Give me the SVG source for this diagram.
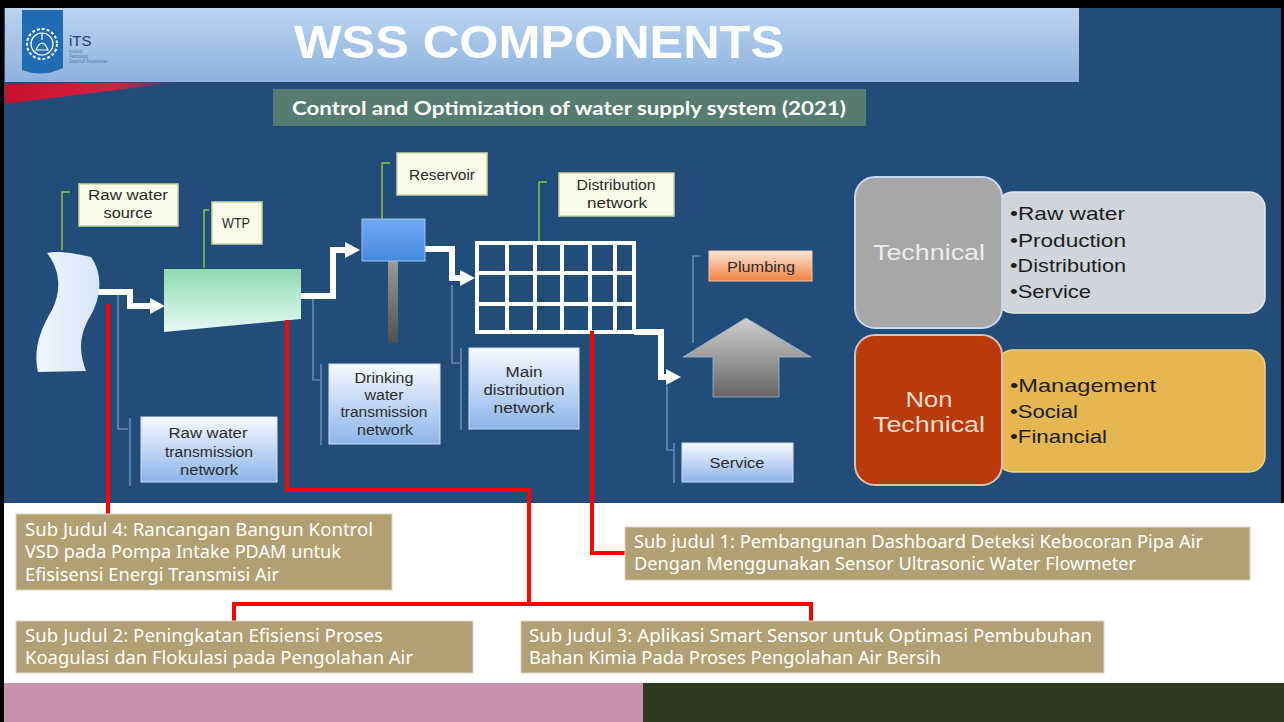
<svg xmlns="http://www.w3.org/2000/svg" width="1284" height="722" viewBox="0 0 1284 722">
  <defs>
    <linearGradient id="gHdr" x1="0" y1="0" x2="0" y2="1">
      <stop offset="0" stop-color="#bcd3ef"/>
      <stop offset="1" stop-color="#8db2de"/>
    </linearGradient>
    <linearGradient id="gSwoosh" x1="0" y1="0" x2="1" y2="0">
      <stop offset="0" stop-color="#c8102e"/>
      <stop offset="0.6" stop-color="#d42040"/>
      <stop offset="1" stop-color="#d42040" stop-opacity="0"/>
    </linearGradient>
    <linearGradient id="gWtp" x1="0" y1="0" x2="0" y2="1">
      <stop offset="0" stop-color="#8ddcaf"/>
      <stop offset="1" stop-color="#e8f7f4"/>
    </linearGradient>
    <linearGradient id="gRes" x1="0" y1="0" x2="0" y2="1">
      <stop offset="0" stop-color="#6faaf3"/>
      <stop offset="1" stop-color="#4589e0"/>
    </linearGradient>
    <linearGradient id="gPole" x1="0" y1="0" x2="0" y2="1">
      <stop offset="0" stop-color="#9a9a9a"/>
      <stop offset="1" stop-color="#4f4f4f"/>
    </linearGradient>
    <linearGradient id="gSrc" x1="0" y1="0" x2="1" y2="0">
      <stop offset="0" stop-color="#f0f6fd"/>
      <stop offset="1" stop-color="#d7e6f8"/>
    </linearGradient>
    <linearGradient id="gLbl" x1="0" y1="0" x2="0" y2="1">
      <stop offset="0" stop-color="#f7faff"/>
      <stop offset="1" stop-color="#8db3ea"/>
    </linearGradient>
    <linearGradient id="gPlumb" x1="0" y1="0" x2="0" y2="1">
      <stop offset="0" stop-color="#fde6d6"/>
      <stop offset="1" stop-color="#f2803f"/>
    </linearGradient>
    <linearGradient id="gUp" x1="0" y1="0" x2="0" y2="1">
      <stop offset="0" stop-color="#cfcfcf"/>
      <stop offset="1" stop-color="#666666"/>
    </linearGradient>
    <marker id="ah" markerUnits="userSpaceOnUse" markerWidth="16" markerHeight="18" refX="0" refY="8" orient="auto">
      <path d="M0,0 L15,8 L0,16 Z" fill="#ffffff"/>
    </marker>
    <style>
      .lead { stroke:#8cc63f; stroke-width:1.5; fill:none; }
      .blead { stroke:#7f9fc6; stroke-width:1.2; fill:none; }
      .cream { fill:#fbfbea; stroke:#cbd59d; stroke-width:1.5; }
      .blue { fill:url(#gLbl); stroke:#cfe0f5; stroke-width:1; }
      .lt { font-family:"Liberation Sans", Arial, sans-serif; font-size:14px; fill:#2b2b2b; }
      .pipe { stroke:#ffffff; stroke-width:6; fill:none; stroke-linejoin:miter; }
      .red { stroke:#ff0000; stroke-width:4; fill:none; }
      .sj { fill:#b0a073; stroke:#dcd6bf; stroke-width:1; }
      .sjt { font-family:"Noto Sans", "Liberation Sans", sans-serif; font-size:18px; fill:#ffffff; }
      .bul { font-family:"Liberation Sans", Arial, sans-serif; font-size:19px; fill:#1e1e1e; }
      .cat { font-family:"Liberation Sans", Arial, sans-serif; font-size:22px; text-anchor:middle; }
    </style>
  </defs>

  <!-- page frame -->
  <rect x="0" y="0" width="1284" height="722" fill="#000000"/>
  <rect x="4" y="8" width="1277" height="496" fill="#224d79"/>
  <rect x="4" y="503" width="1280" height="180" fill="#ffffff"/>
  <rect x="4" y="683" width="639" height="39" fill="#c791ad"/>
  <rect x="643" y="683" width="641" height="39" fill="#303820"/>

  <!-- header band -->
  <rect x="5" y="8" width="1074" height="74" fill="url(#gHdr)"/>
  <path d="M5,84 L182,82 Q100,92 5,104 Z" fill="url(#gSwoosh)"/>

  <!-- ITS logo -->
  <g id="logo">
    <path d="M22,10 H63 V68 Q42,78 22,70 Z" fill="#1f6cb2"/>
    <circle cx="42" cy="44" r="15" fill="none" stroke="#ffffff" stroke-width="2" stroke-dasharray="3 2"/>
    <circle cx="42" cy="44" r="11" fill="none" stroke="#ffffff" stroke-width="1.2"/>
    <path d="M36,50 Q42,36 48,50 Z M42,33 V40" fill="none" stroke="#ffffff" stroke-width="1.2"/>
    <text x="69" y="46" font-family="Liberation Sans, Arial, sans-serif" font-size="15" fill="#1d3d6b">iTS</text>
    <text x="69" y="53" font-family="Liberation Sans, Arial, sans-serif" font-size="4.5" fill="#5a7aa0">Institut</text>
    <text x="69" y="58" font-family="Liberation Sans, Arial, sans-serif" font-size="4.5" fill="#5a7aa0">Teknologi</text>
    <text x="69" y="63" font-family="Liberation Sans, Arial, sans-serif" font-size="4.5" fill="#5a7aa0">Sepuluh Nopember</text>
  </g>

  <text x="294" y="58" font-family="Liberation Sans, Arial, sans-serif" font-weight="bold" font-size="46" fill="#ffffff" textLength="490" lengthAdjust="spacingAndGlyphs">WSS COMPONENTS</text>

  <g id="subtitle">
    <rect x="273" y="89" width="593" height="37" fill="#577b70"/>
    <text x="292" y="115" font-family="Lato, 'Liberation Sans', sans-serif" font-weight="bold" font-size="19" fill="#ffffff" textLength="554" lengthAdjust="spacingAndGlyphs">Control and Optimization of water supply system (2021)</text>
  </g>

  <!-- leader lines of the component labels -->
  <g id="leaders">
    <path class="lead" d="M70,192 H62 V250"/>
    <path class="lead" d="M209,210 H204 V268"/>
    <path class="lead" d="M390,163 H382 V228"/>
    <path class="lead" d="M547,182 H539 V245"/>
    <path class="blead" d="M700,256 H693 V343"/>
    <path class="blead" d="M118,293 V429 H128"/>
    <path class="blead" d="M130,418 V486"/>
    <path class="blead" d="M313,298 V380 H320"/>
    <path class="blead" d="M321,364 V445"/>
    <path class="blead" d="M452,285 V363 H460"/>
    <path class="blead" d="M461,348 V430"/>
    <path class="blead" d="M667,386 V450 H673"/>
    <path class="blead" d="M674,443 V483"/>
  </g>

  <!-- flow pipes -->
  <g id="pipes">
    <path class="pipe" d="M98,292 H130 V306 H150" marker-end="url(#ah)"/>
    <path class="pipe" d="M301,296 H333 V250 H345" marker-end="url(#ah)"/>
    <path class="pipe" d="M425,249 H452 V278 H460" marker-end="url(#ah)"/>
    <path class="pipe" d="M634,332 H661 V377 H666" marker-end="url(#ah)"/>
  </g>

  <g id="source">
    <path d="M47,253 C62,250 80,255 91,257 C104,275 101,300 88,320 C78,340 80,355 86,371 L38,372 C33,350 40,330 52,310 C62,290 60,270 47,253 Z" fill="url(#gSrc)"/>
    <rect class="cream" x="79" y="184" width="99" height="42"/>
    <text class="lt" x="128" y="200" text-anchor="middle" textLength="80" lengthAdjust="spacingAndGlyphs">Raw water</text>
    <text class="lt" x="128" y="218" text-anchor="middle" textLength="49" lengthAdjust="spacingAndGlyphs">source</text>
  </g>

  <g id="wtp">
    <polygon points="164,269 301,269 301,319 164,332" fill="url(#gWtp)"/>
    <rect class="cream" x="212" y="202" width="50" height="42"/>
    <text class="lt" x="236" y="228" text-anchor="middle" textLength="28" lengthAdjust="spacingAndGlyphs">WTP</text>
  </g>

  <g id="reservoir">
    <rect x="388" y="261" width="10" height="82" fill="url(#gPole)"/>
    <rect x="362" y="219" width="63" height="42" fill="url(#gRes)" stroke="#9cc4f2" stroke-width="1"/>
    <rect class="cream" x="397" y="153" width="90" height="42"/>
    <text class="lt" x="442" y="180" text-anchor="middle" textLength="66" lengthAdjust="spacingAndGlyphs">Reservoir</text>
  </g>

  <g id="distribution">
    <g stroke="#ffffff" stroke-width="4" fill="none">
      <rect x="477" y="243" width="157" height="89"/>
      <path d="M507,243 V332 M535,243 V332 M562,243 V332 M590,243 V332 M615,243 V332 M477,273 H634 M477,304 H634"/>
    </g>
    <rect class="cream" x="559" y="173" width="115" height="43"/>
    <text class="lt" x="616" y="190" text-anchor="middle" textLength="79" lengthAdjust="spacingAndGlyphs">Distribution</text>
    <text class="lt" x="617" y="208" text-anchor="middle" textLength="60" lengthAdjust="spacingAndGlyphs">network</text>
  </g>

  <g id="plumbing">
    <polygon points="746,318 811,357 779,357 779,397 713,397 713,357 683,357" fill="url(#gUp)" stroke="#9fb6d0" stroke-width="0.8"/>
    <rect x="709" y="251" width="103" height="30" fill="url(#gPlumb)" stroke="#f5c6a6" stroke-width="1"/>
    <text class="lt" x="761" y="272" text-anchor="middle" textLength="68" lengthAdjust="spacingAndGlyphs" fill="#3a2a20">Plumbing</text>
  </g>

  <g id="raw-transmission">
    <rect class="blue" x="141" y="417" width="136" height="65"/>
    <text class="lt" x="208" y="438" text-anchor="middle" textLength="79" lengthAdjust="spacingAndGlyphs">Raw water</text>
    <text class="lt" x="209" y="457" text-anchor="middle" textLength="88" lengthAdjust="spacingAndGlyphs">transmission</text>
    <text class="lt" x="209" y="475" text-anchor="middle" textLength="58" lengthAdjust="spacingAndGlyphs">network</text>
  </g>

  <g id="drinking-transmission">
    <rect class="blue" x="329" y="364" width="111" height="80"/>
    <text class="lt" x="384" y="383" text-anchor="middle" textLength="59" lengthAdjust="spacingAndGlyphs">Drinking</text>
    <text class="lt" x="384" y="400" text-anchor="middle" textLength="39" lengthAdjust="spacingAndGlyphs">water</text>
    <text class="lt" x="384" y="417" text-anchor="middle" textLength="87" lengthAdjust="spacingAndGlyphs">transmission</text>
    <text class="lt" x="385" y="435" text-anchor="middle" textLength="56" lengthAdjust="spacingAndGlyphs">network</text>
  </g>

  <g id="main-distribution">
    <rect class="blue" x="469" y="348" width="110" height="81"/>
    <text class="lt" x="524" y="377" text-anchor="middle" textLength="37" lengthAdjust="spacingAndGlyphs">Main</text>
    <text class="lt" x="524" y="395" text-anchor="middle" textLength="81" lengthAdjust="spacingAndGlyphs">distribution</text>
    <text class="lt" x="524" y="413" text-anchor="middle" textLength="61" lengthAdjust="spacingAndGlyphs">network</text>
  </g>

  <g id="service">
    <rect class="blue" x="682" y="443" width="111" height="39"/>
    <text class="lt" x="737" y="468" text-anchor="middle" textLength="55" lengthAdjust="spacingAndGlyphs">Service</text>
  </g>

  <!-- component categories -->
  <g id="technical">
    <rect x="997" y="192" width="268" height="121" rx="16" fill="#d0d4db" stroke="#e2e7ee" stroke-width="1.5"/>
    <rect x="855" y="177" width="147" height="151" rx="20" fill="#a7a7a7" stroke="#c5d8ee" stroke-width="2"/>
    <text class="cat" x="929" y="260" fill="#ececec" textLength="112" lengthAdjust="spacingAndGlyphs">Technical</text>
    <text class="bul" x="1010" y="220" textLength="115" lengthAdjust="spacingAndGlyphs">•Raw water</text>
    <text class="bul" x="1010" y="247" textLength="116" lengthAdjust="spacingAndGlyphs">•Production</text>
    <text class="bul" x="1010" y="272" textLength="116" lengthAdjust="spacingAndGlyphs">•Distribution</text>
    <text class="bul" x="1010" y="298" textLength="81" lengthAdjust="spacingAndGlyphs">•Service</text>
  </g>

  <g id="non-technical">
    <rect x="997" y="350" width="268" height="122" rx="16" fill="#e6b651" stroke="#efd08a" stroke-width="1.5"/>
    <rect x="855" y="335" width="147" height="150" rx="20" fill="#b83a0d" stroke="#d8c3b5" stroke-width="2"/>
    <text class="cat" x="929" y="407" fill="#f6dcc8" textLength="47" lengthAdjust="spacingAndGlyphs">Non</text>
    <text class="cat" x="929" y="432" fill="#f6dcc8" textLength="112" lengthAdjust="spacingAndGlyphs">Technical</text>
    <text class="bul" x="1010" y="392" textLength="146" lengthAdjust="spacingAndGlyphs">•Management</text>
    <text class="bul" x="1010" y="418" textLength="68" lengthAdjust="spacingAndGlyphs">•Social</text>
    <text class="bul" x="1010" y="443" textLength="97" lengthAdjust="spacingAndGlyphs">•Financial</text>
  </g>

  <!-- topic connectors -->
  <g id="connectors">
    <path class="red" d="M108,304 V514"/>
    <path class="red" d="M287,320 V490 H529 V604"/>
    <path class="red" d="M234,621 V604 H811 V621"/>
    <path class="red" d="M592,331 V553 H626"/>
  </g>

  <g id="sub-judul-4">
    <rect class="sj" x="16" y="514" width="376" height="76"/>
    <text class="sjt" x="25" y="536" textLength="348" lengthAdjust="spacingAndGlyphs">Sub Judul 4: Rancangan Bangun Kontrol</text>
    <text class="sjt" x="25" y="558" textLength="316" lengthAdjust="spacingAndGlyphs">VSD pada Pompa Intake PDAM untuk</text>
    <text class="sjt" x="25" y="581" textLength="254" lengthAdjust="spacingAndGlyphs">Efisisensi Energi Transmisi Air</text>
  </g>

  <g id="sub-judul-1">
    <rect class="sj" x="625" y="527" width="625" height="53"/>
    <text class="sjt" x="634" y="548" textLength="569" lengthAdjust="spacingAndGlyphs">Sub judul 1: Pembangunan Dashboard Deteksi Kebocoran Pipa Air</text>
    <text class="sjt" x="634" y="570" textLength="502" lengthAdjust="spacingAndGlyphs">Dengan Menggunakan Sensor Ultrasonic Water Flowmeter</text>
  </g>

  <g id="sub-judul-2">
    <rect class="sj" x="16" y="621" width="457" height="52"/>
    <text class="sjt" x="25" y="642" textLength="358" lengthAdjust="spacingAndGlyphs">Sub Judul 2: Peningkatan Efisiensi Proses</text>
    <text class="sjt" x="25" y="664" textLength="388" lengthAdjust="spacingAndGlyphs">Koagulasi dan Flokulasi pada Pengolahan Air</text>
  </g>

  <g id="sub-judul-3">
    <rect class="sj" x="521" y="621" width="583" height="52"/>
    <text class="sjt" x="529" y="642" textLength="563" lengthAdjust="spacingAndGlyphs">Sub Judul 3:  Aplikasi Smart Sensor untuk Optimasi Pembubuhan</text>
    <text class="sjt" x="529" y="664" textLength="412" lengthAdjust="spacingAndGlyphs">Bahan Kimia Pada Proses Pengolahan Air Bersih</text>
  </g>
</svg>
